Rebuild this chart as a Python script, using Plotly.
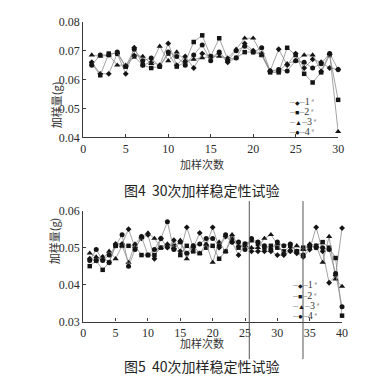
import plotly.graph_objects as go

# ---------------- data: Fig.4 (30 runs) ----------------
runs30 = list(range(1, 31))
fig4_s1 = [0.0660, 0.0620, 0.0620, 0.0690, 0.0620, 0.0710, 0.0650, 0.0660, 0.0650, 0.0725,
           0.0650, 0.0680, 0.0640, 0.0690, 0.0680, 0.0690, 0.0660, 0.0675, 0.0725, 0.0700,
           0.0690, 0.0630, 0.0705, 0.0650, 0.0690, 0.0640, 0.0670, 0.0660, 0.0640, 0.0635]
fig4_s2 = [0.0655, 0.0615, 0.0690, 0.0690, 0.0645, 0.0680, 0.0650, 0.0640, 0.0645, 0.0690,
           0.0645, 0.0660, 0.0730, 0.0753, 0.0680, 0.0743, 0.0670, 0.0675, 0.0695, 0.0695,
           0.0685, 0.0625, 0.0625, 0.0710, 0.0685, 0.0620, 0.0590, 0.0625, 0.0685, 0.0530]
fig4_s3 = [0.0685, 0.0680, 0.0685, 0.0650, 0.0650, 0.0685, 0.0680, 0.0655, 0.0715, 0.0665,
           0.0695, 0.0665, 0.0670, 0.0675, 0.0680, 0.0680, 0.0675, 0.0705, 0.0743, 0.0743,
           0.0685, 0.0630, 0.0630, 0.0655, 0.0665, 0.0685, 0.0685, 0.0630, 0.0690, 0.0420]
fig4_s4 = [0.0650, 0.0685, 0.0685, 0.0695, 0.0645, 0.0705, 0.0665, 0.0675, 0.0645, 0.0695,
           0.0680, 0.0650, 0.0685, 0.0720, 0.0665, 0.0695, 0.0665, 0.0700, 0.0715, 0.0695,
           0.0710, 0.0630, 0.0635, 0.0630, 0.0665, 0.0660, 0.0640, 0.0655, 0.0690, 0.0635]

# ---------------- data: Fig.5 (40 runs) ----------------
runs40 = list(range(1, 41))
fig5_s1 = [0.0470, 0.0465, 0.0475, 0.0460, 0.0510, 0.0510, 0.0550, 0.0500, 0.0525, 0.0535,
           0.0470, 0.0525, 0.0500, 0.0520, 0.0490, 0.0555, 0.0500, 0.0540, 0.0505, 0.0555,
           0.0500, 0.0530, 0.0515, 0.0480, 0.0510, 0.0490, 0.0490, 0.0490, 0.0490, 0.0480,
           0.0480, 0.0490, 0.0485, 0.0475, 0.0495, 0.0555, 0.0490, 0.0405, 0.0425, 0.0553]
fig5_s2 = [0.0450, 0.0465, 0.0440, 0.0460, 0.0505, 0.0505, 0.0505, 0.0505, 0.0480, 0.0480,
           0.0480, 0.0500, 0.0505, 0.0505, 0.0480, 0.0505, 0.0490, 0.0485, 0.0500, 0.0505,
           0.0470, 0.0490, 0.0525, 0.0500, 0.0510, 0.0520, 0.0510, 0.0500, 0.0505, 0.0500,
           0.0490, 0.0505, 0.0490, 0.0500, 0.0500, 0.0505, 0.0515, 0.0500, 0.0472, 0.0316]
fig5_s3 = [0.0485, 0.0475, 0.0470, 0.0490, 0.0470, 0.0505, 0.0460, 0.0510, 0.0530, 0.0540,
           0.0525, 0.0500, 0.0510, 0.0500, 0.0520, 0.0470, 0.0505, 0.0485, 0.0510, 0.0460,
           0.0515, 0.0490, 0.0535, 0.0505, 0.0505, 0.0500, 0.0500, 0.0525, 0.0535, 0.0510,
           0.0485, 0.0495, 0.0505, 0.0495, 0.0510, 0.0505, 0.0460, 0.0530, 0.0415, 0.0395]
fig5_s4 = [0.0465, 0.0495, 0.0465, 0.0480, 0.0505, 0.0535, 0.0450, 0.0495, 0.0530, 0.0480,
           0.0495, 0.0525, 0.0570, 0.0495, 0.0515, 0.0485, 0.0505, 0.0510, 0.0525, 0.0525,
           0.0505, 0.0535, 0.0515, 0.0515, 0.0495, 0.0525, 0.0515, 0.0505, 0.0495, 0.0515,
           0.0505, 0.0510, 0.0490, 0.0480, 0.0505, 0.0500, 0.0500, 0.0495, 0.0430, 0.0340]

series_labels = ["1", "2", "3", "4"]
x_ticks30 = [0, 5, 10, 15, 20, 25, 30]
x_ticks40 = [0, 5, 10, 15, 20, 25, 30, 35, 40]
y_ticks4 = [0.04, 0.05, 0.06, 0.07, 0.08]
y_ticks5 = [0.03, 0.04, 0.05, 0.06]

y_title = "加样量(g)"
x_title = "加样次数"
caption4 = "图4  30次加样稳定性试验"
caption5 = "图5  40次加样稳定性试验"

symbols = ["diamond", "square", "triangle-up", "circle"]
key_glyphs = ["◆", "■", "▲", "●"]
key_glyph_sizes = [6, 7, 7, 8]
sizes = [4.5, 4.5, 5.5, 5]
LINE_C = "#8c8c8c"
MARK_C = "#141414"
CJK = "Noto Sans CJK SC"
SERIF = "Liberation Serif, Times New Roman, serif"

fig = go.Figure()
for ys, nm, sym, sz in zip([fig4_s1, fig4_s2, fig4_s3, fig4_s4], series_labels, symbols, sizes):
    fig.add_trace(go.Scatter(x=runs30, y=ys, name=nm + "#", mode="lines+markers",
                             line=dict(color=LINE_C, width=0.8),
                             marker=dict(symbol=sym, size=sz, color=MARK_C),
                             xaxis="x", yaxis="y", showlegend=False, cliponaxis=False))
for ys, nm, sym, sz in zip([fig5_s1, fig5_s2, fig5_s3, fig5_s4], series_labels, symbols, sizes):
    fig.add_trace(go.Scatter(x=runs40, y=ys, name=nm + "#", mode="lines+markers",
                             line=dict(color=LINE_C, width=0.8),
                             marker=dict(symbol=sym, size=sz, color=MARK_C),
                             xaxis="x2", yaxis="y2", showlegend=False, cliponaxis=False))

W, H = 384, 390
def px_x(p): return p / W
def px_y(p): return 1 - p / H

axis_common = dict(showgrid=False, zeroline=False, showline=True, linecolor="#3a3a3a",
                   linewidth=1.2, ticks="inside", ticklen=3, tickcolor="#3a3a3a",
                   tickfont=dict(family=SERIF, size=12, color="#2a2a2a"))

fig.update_layout(
    width=W, height=H, autosize=False,
    margin=dict(l=0, r=0, t=0, b=0),
    paper_bgcolor="white", plot_bgcolor="white",
    font=dict(family=SERIF, size=12, color="#2a2a2a"),
    showlegend=False,
    xaxis=dict(domain=[px_x(74), px_x(335)], range=[0, 30], tickvals=x_ticks30,
               anchor="y", **axis_common),
    yaxis=dict(domain=[px_y(127), px_y(7)], range=[0.04, 0.08], tickvals=y_ticks4,
               tickformat=".2f", anchor="x", **axis_common),
    xaxis2=dict(domain=[px_x(74), px_x(339)], range=[0, 40], tickvals=x_ticks40,
                anchor="y2", **axis_common),
    yaxis2=dict(domain=[px_y(318), px_y(203)], range=[0.03, 0.06], tickvals=y_ticks5,
                tickformat=".2f", anchor="x2", **axis_common),
)

ann_font = dict(family=CJK, size=11, color="#333")
cap_font = dict(family=CJK, size=14, color="#222")
def note(text, x, y, font, **kw):
    fig.add_annotation(text=text, x=px_x(x), y=px_y(y), xref="paper", yref="paper",
                       showarrow=False, font=font, **kw)

note(y_title, 36, 67, ann_font, textangle=-90)
note(x_title, 196, 155, ann_font)
note(caption4, 196, 181, cap_font)
note(y_title, 34, 261, ann_font, textangle=-90)
note(x_title, 196, 351, ann_font)
note(caption5, 196, 376, cap_font)

# legend keys (text rows)
def legend_rows(x_left, y_rows):
    for lab, g, gs, yr in zip(series_labels, key_glyphs, key_glyph_sizes, y_rows):
        txt = (f"<span style='color:{LINE_C}'>–</span>"
               f"<span style='font-size:{gs}px;color:{MARK_C}'>{g}</span>"
               f"<span style='color:{LINE_C}'>–</span>"
               f"<span style='color:#333'>{lab}</span>"
               f"<span style='font-size:7px;color:#444'> <sup>#</sup></span>")
        fig.add_annotation(text=txt, x=px_x(x_left), y=px_y(yr), xref="paper", yref="paper",
                           xanchor="left", yanchor="middle", showarrow=False,
                           font=dict(family="Liberation Serif, DejaVu Sans", size=10, color="#333"))

legend_rows(283, [90, 100.5, 110.5, 121])
legend_rows(286, [280, 290.5, 301, 312])

# scan marks: two vertical rules crossing the lower figure
for xp in (244, 299):
    fig.add_shape(type="line", xref="paper", yref="paper", x0=px_x(xp), x1=px_x(xp),
                  y0=px_y(357), y1=px_y(193), line=dict(color="#555", width=1))

fig.write_html("out.html")
